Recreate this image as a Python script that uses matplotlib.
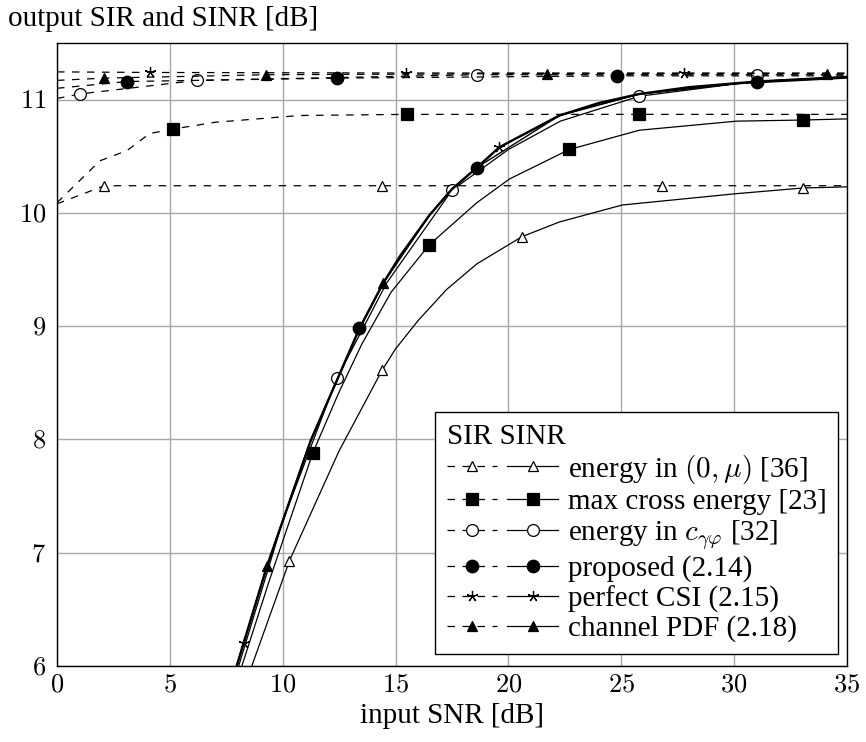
import matplotlib
matplotlib.use('Agg')
import matplotlib.pyplot as plt
from matplotlib.lines import Line2D
from matplotlib.legend_handler import HandlerTuple

plt.rcParams['font.family'] = 'Liberation Serif'
plt.rcParams['mathtext.fontset'] = 'cm'

# ---- SIR curves (dashed) ----
snr_e0mu_sir = [0, 2.1, 14.4, 26.8, 35]
e0mu_sir = [10.08, 10.24, 10.24, 10.24, 10.24]
snr_maxce_sir = [0, 1.9, 3.1, 4.1, 5.13, 7.0, 10.75, 15.5, 25.8, 35]
maxce_sir = [10.09, 10.46, 10.55, 10.70, 10.74, 10.80, 10.86, 10.87, 10.87, 10.87]
snr_ec_sir = [0, 1.0, 6.2, 18.6, 31.0, 35]
ec_sir = [11.01, 11.05, 11.17, 11.22, 11.22, 11.22]
snr_prop_sir = [0, 3.1, 12.4, 24.8, 35]
prop_sir = [11.10, 11.16, 11.19, 11.21, 11.21]
snr_csi_sir = [0, 4.1, 15.45, 27.8, 35]
csi_sir = [11.245, 11.24, 11.235, 11.235, 11.235]
snr_pdf_sir = [0, 2.1, 9.25, 21.7, 34.1, 35]
pdf_sir = [11.17, 11.19, 11.22, 11.23, 11.23, 11.23]

# ---- SINR curves (solid) ----
snr_e0mu_sinr = [8.63, 10.3, 12.5, 14.4, 15.0, 16.0, 17.24, 18.6, 20.6, 22.26, 25.05, 30.1, 33.05, 35]
e0mu_sinr = [6.0, 6.93, 7.90, 8.61, 8.80, 9.05, 9.32, 9.55, 9.79, 9.92, 10.07, 10.17, 10.22, 10.23]
snr_maxce_sinr = [8.19, 9.4, 11.33, 12.5, 13.5, 14.8, 16.5, 18.6, 20.05, 22.7, 25.8, 30.1, 33.05, 35]
maxce_sinr = [6.0, 6.75, 7.88, 8.42, 8.84, 9.30, 9.72, 10.09, 10.30, 10.56, 10.73, 10.81, 10.82, 10.83]
snr_ec_sinr = [8.05, 10.0, 12.4, 14.6, 17.5, 20.0, 22.3, 25.8, 30.1, 35]
ec_sinr = [6.0, 7.28, 8.54, 9.38, 10.2, 10.56, 10.81, 11.03, 11.14, 11.19]
snr_prop_sinr = [7.96, 9.3, 11.24, 13.4, 14.45, 15.2, 16.5, 17.5, 18.6, 19.6, 22.26, 24.0, 25.8, 28.0, 31.0, 35]
prop_sinr = [6.0, 6.88, 7.99, 8.98, 9.38, 9.62, 9.98, 10.21, 10.40, 10.58, 10.86, 10.97, 11.05, 11.11, 11.16, 11.20]
snr_csi_sinr = [7.96, 8.27, 9.3, 11.24, 13.4, 14.45, 16.5, 17.5, 18.6, 19.6, 22.26, 25.8, 31.0, 35]
csi_sinr = [6.0, 6.2, 6.88, 7.99, 8.98, 9.38, 9.98, 10.21, 10.40, 10.58, 10.86, 11.05, 11.16, 11.20]
snr_pdf_sinr = [7.96, 9.3, 11.24, 13.4, 14.45, 16.5, 17.5, 18.6, 22.26, 25.8, 31.0, 35]
pdf_sinr = [6.0, 6.88, 7.99, 8.98, 9.38, 9.98, 10.21, 10.40, 10.86, 11.05, 11.16, 11.20]

labels = [r'energy in $(0,\mu)$ [36]', 'max cross energy [23]',
          r'energy in $c_{\gamma\varphi}$ [32]', 'proposed (2.14)',
          'perfect CSI (2.15)', 'channel PDF (2.18)']
xticks = [0, 5, 10, 15, 20, 25, 30, 35]
yticks = [6, 7, 8, 9, 10, 11]

star = (5, 2, 0)
# marker style per series: (marker, facecolor, size)
styles = [('^', 'white', 7), ('s', 'black', 8.5), ('o', 'white', 8.5),
          ('o', 'black', 9), (star, 'black', 8), ('^', 'black', 7.5)]

sir = [(snr_e0mu_sir, e0mu_sir, [1, 2, 3]),
       (snr_maxce_sir, maxce_sir, [4, 7, 8]),
       (snr_ec_sir, ec_sir, [1, 2, 3, 4]),
       (snr_prop_sir, prop_sir, [1, 2, 3]),
       (snr_csi_sir, csi_sir, [1, 2, 3]),
       (snr_pdf_sir, pdf_sir, [1, 2, 3, 4])]
sinr = [(snr_e0mu_sinr, e0mu_sinr, [1, 3, 8, 12], 0.9),
        (snr_maxce_sinr, maxce_sinr, [2, 6, 9, 12], 0.9),
        (snr_ec_sinr, ec_sinr, [2, 4, 7], 0.9),
        (snr_prop_sinr, prop_sinr, [3, 8, 14], 1.7),
        (snr_csi_sinr, csi_sinr, [1, 9], 1.0),
        (snr_pdf_sinr, pdf_sinr, [1, 4], 1.0)]

fig = plt.figure(figsize=(8.66, 7.42), dpi=100)
ax = fig.add_axes([57 / 866, 76 / 742, 790 / 866, 623 / 742])

dash = (6, 6)
handles = []
for i in range(6):
    m, fc, ms = styles[i]
    x, y, me = sir[i]
    ax.plot(x, y, color='black', lw=0.9, dashes=dash, marker=m, ms=ms,
            mfc=fc, mec='black', mew=0.9, markevery=me, zorder=3)
    x, y, me, lw = sinr[i]
    ax.plot(x, y, color='black', lw=lw, marker=m, ms=ms,
            mfc=fc, mec='black', mew=0.9, markevery=me, zorder=3)
    ld = Line2D([], [], color='black', lw=0.9, dashes=dash, marker=m, ms=ms,
                mfc=fc, mec='black', mew=0.9)
    ls = Line2D([], [], color='black', lw=0.9, marker=m, ms=ms,
                mfc=fc, mec='black', mew=0.9)
    handles.append((ld, ls))

ax.set_xlim(0, 35)
ax.set_ylim(6, 11.5)
ax.set_xticks(xticks)
ax.set_xticklabels([f'${v}$' for v in xticks])
ax.set_yticks(yticks)
ax.set_yticklabels([f'${v}$' for v in yticks])
ax.tick_params(length=0, labelsize=19)
ax.tick_params(axis='x', pad=6)
ax.tick_params(axis='y', pad=8)
ax.grid(True, color='#a8a8a8', lw=1.0)
ax.set_axisbelow(True)
for s in ax.spines.values():
    s.set_linewidth(1.0)

ax.set_xlabel('input SNR [dB]', fontsize=21, labelpad=5)
fig.text(8 / 866, 1 - 26 / 742, 'output SIR and SINR [dB]', fontsize=21,
         va='baseline', ha='left')

leg = ax.legend(handles, labels, handler_map={tuple: HandlerTuple(ndivide=2, pad=0.35)},
                title='SIR SINR', alignment='left', loc='lower right',
                bbox_to_anchor=(0.989, 0.019), fontsize=21, title_fontsize=21,
                frameon=True, fancybox=False, edgecolor='black', framealpha=1,
                handlelength=3.8, handletextpad=0.35, labelspacing=0.1,
                borderpad=0.4, borderaxespad=0)
leg.get_frame().set_linewidth(1.0)

fig.savefig('out.png', dpi=100)
